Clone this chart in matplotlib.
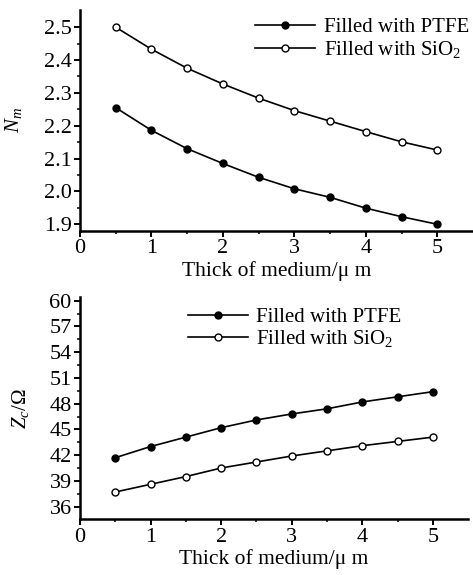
import matplotlib
matplotlib.use("Agg")
from matplotlib import pyplot as plt
import numpy as np

plt.rcParams['font.family'] = ['Liberation Serif', 'DejaVu Serif']
plt.rcParams['mathtext.fontset'] = 'custom'
plt.rcParams['mathtext.rm'] = 'Liberation Serif'
plt.rcParams['mathtext.it'] = 'Liberation Serif:italic'

# thickness of medium (um)
thick = [0.5, 1.0, 1.5, 2.0, 2.5, 3.0, 3.5, 4.0, 4.5, 5.0]

# effective index N_m
nm_ptfe = [2.255, 2.186, 2.130, 2.085, 2.043, 2.008, 1.982, 1.949, 1.923, 1.900]
nm_sio2 = [2.500, 2.433, 2.375, 2.327, 2.284, 2.246, 2.214, 2.182, 2.151, 2.126]

# characteristic impedance Z_c (ohm)
zc_ptfe = [41.7, 43.0, 44.1, 45.2, 46.1, 46.8, 47.4, 48.2, 48.8, 49.4]
zc_sio2 = [37.7, 38.6, 39.5, 40.5, 41.2, 41.9, 42.5, 43.1, 43.6, 44.1]

labels = ['Filled with PTFE', 'Filled with SiO$_2$']
fs = 15

fig = plt.figure(figsize=(4.73, 5.75), dpi=100)
ax1 = fig.add_axes([0.169, 0.598, 0.831, 0.385])
ax2 = fig.add_axes([0.169, 0.097, 0.821, 0.386])


def style(ax):
    ax.spines['right'].set_color('none')
    ax.spines['top'].set_color('none')
    ax.spines['left'].set_linewidth(1.8)
    ax.spines['bottom'].set_linewidth(1.8)
    ax.set_xlim(0, 5.5)
    ax.set_xticks([0, 1, 2, 3, 4, 5])
    ax.set_xticks([0.5, 1.5, 2.5, 3.5, 4.5], minor=True)
    ax.tick_params(which='major', direction='out', length=4, width=1.4, labelsize=16, pad=2)
    ax.tick_params(which='minor', direction='out', length=2.5, width=1.1)
    ax.set_xlabel('Thick of medium/\u03bc m', fontsize=15.5, labelpad=2)


ax1.plot(thick, nm_ptfe, '-', color='black', lw=1.2, marker='o', ms=5,
         mfc='black', mec='black', label=labels[0])
ax1.plot(thick, nm_sio2, '-', color='black', lw=1.2, marker='o', ms=5,
         mfc='white', mec='black', label=labels[1])
style(ax1)
ax1.set_ylim(1.879, 2.553)
ax1.set_yticks(np.arange(1.9, 2.51, 0.1))
ax1.set_yticks(np.arange(1.95, 2.51, 0.1), minor=True)
ax1.yaxis.set_major_formatter(matplotlib.ticker.FormatStrFormatter('%.1f'))
ax1.set_ylabel('$N_m$', fontsize=fs, labelpad=14)
ax1.legend(loc='upper left', bbox_to_anchor=(0.445, 0.965), frameon=False,
           fontsize=fs, handlelength=2.9, handletextpad=0.4, labelspacing=0.1,
           borderaxespad=0, borderpad=0)

ax2.plot(thick, zc_ptfe, '-', color='black', lw=1.2, marker='o', ms=5,
         mfc='black', mec='black', label=labels[0])
ax2.plot(thick, zc_sio2, '-', color='black', lw=1.2, marker='o', ms=5,
         mfc='white', mec='black', label=labels[1])
style(ax2)
ax2.set_ylim(34.53, 60.4)
ax2.set_yticks(np.arange(36, 61, 3))
ax2.set_yticks(np.arange(37.5, 60, 3), minor=True)
ax2.set_ylabel('$Z_c$/\u03a9', fontsize=fs, labelpad=13)
ax2.legend(loc='upper left', bbox_to_anchor=(0.256, 0.99), frameon=False,
           fontsize=fs, handlelength=2.9, handletextpad=0.4, labelspacing=0.05,
           borderaxespad=0)

fig.savefig('out.png', dpi=100)
